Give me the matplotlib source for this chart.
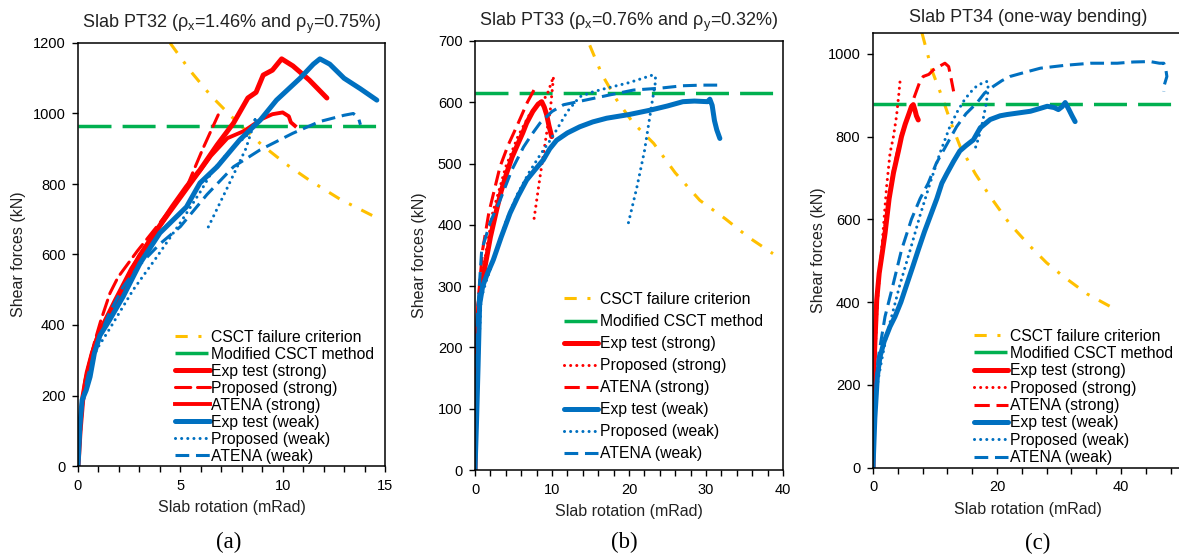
import matplotlib
matplotlib.use("Agg")
import matplotlib.pyplot as plt
from matplotlib.ticker import MultipleLocator

plt.rcParams['font.family'] = ['Liberation Sans', 'DejaVu Sans']
plt.rcParams['mathtext.fontset'] = 'custom'
plt.rcParams['mathtext.rm'] = 'Liberation Sans'

# ---------------- data ----------------
legend_labels = ["CSCT failure criterion", "Modified CSCT method", "Exp test (strong)",
                 "Proposed (strong)", "ATENA (strong)", "Exp test (weak)",
                 "Proposed (weak)", "ATENA (weak)"]

titles = ["Slab PT32 (ρ$_\\mathregular{x}$=1.46% and ρ$_\\mathregular{y}$=0.75%)",
          "Slab PT33 (ρ$_\\mathregular{x}$=0.76% and ρ$_\\mathregular{y}$=0.32%)",
          "Slab PT34 (one-way bending)"]
panel_tags = ["(a)", "(b)", "(c)"]

# Panel (a) PT32
a_mod = 965
a_csct_x = [4.5, 5.5, 6.5, 7.9, 9.0, 10.2, 11.3, 12.8, 14.5]
a_csct_y = [1200, 1120, 1050, 968, 910, 855, 811, 757, 707]
a_exp_s_x = [0, 0.1, 0.24, 0.45, 0.7, 1.0, 1.3, 1.8, 2.4, 3.0, 3.8, 4.6, 5.3, 5.96, 6.8, 7.6, 8.3, 8.7, 9.05, 9.5, 9.95, 10.5, 11.3, 12.16]
a_exp_s_y = [0, 100, 196, 265, 320, 370, 405, 460, 530, 595, 665, 735, 792, 840, 911, 973, 1044, 1060, 1109, 1123, 1155, 1135, 1095, 1044]
a_prop_s_x = [0, 0.2, 0.5, 0.8, 1.1, 1.56, 1.96, 2.9, 4.0, 5.3, 6.1, 6.85]
a_prop_s_y = [0, 160, 280, 350, 410, 490, 536, 610, 690, 790, 900, 996]
a_atena_s_x = [0, 0.15, 0.35, 0.6, 0.9, 1.2, 1.8, 2.6, 3.5, 4.5, 5.5, 6.5, 7.3, 8.1, 9.0, 9.5, 10.0, 10.3, 10.4, 10.6]
a_atena_s_y = [0, 150, 240, 300, 360, 400, 470, 560, 640, 720, 800, 880, 930, 950, 985, 998, 1003, 992, 975, 965]
a_exp_w_x = [0, 0.1, 0.2, 0.4, 0.59, 0.8, 1.07, 1.5, 2.2, 3.03, 4.0, 5.3, 5.96, 6.8, 7.9, 8.9, 9.7, 10.85, 11.5, 11.82, 12.3, 13.0, 13.8, 14.6]
a_exp_w_y = [0, 120, 187, 215, 253, 320, 370, 410, 480, 575, 661, 735, 803, 849, 925, 981, 1038, 1100, 1140, 1155, 1140, 1100, 1070, 1038]
a_prop_w_x = [0, 0.2, 0.5, 0.9, 1.45, 2.7, 3.85, 5.0, 6.0, 6.6, 7.5, 8.4, 8.7, 8.2, 7.3, 6.3]
a_prop_w_y = [0, 170, 240, 330, 380, 500, 593, 690, 780, 840, 900, 945, 990, 900, 790, 670]
a_atena_w_x = [0, 0.15, 0.5, 1.0, 1.5, 2.2, 3.0, 4.0, 5.0, 6.3, 7.6, 8.9, 10.5, 11.8, 13.0, 13.45, 13.7, 13.8]
a_atena_w_y = [0, 170, 260, 360, 430, 508, 570, 630, 679, 770, 849, 897, 944, 977, 995, 1000, 988, 968]

# Panel (b) PT33
b_mod = 615
b_csct_x = [14.9, 16.5, 18.4, 20.5, 23.2, 26.0, 29.2, 32.5, 35.5, 38.7]
b_csct_y = [693, 645, 604, 567, 533, 485, 440, 410, 380, 353]
b_exp_s_x = [0, 0.1, 0.25, 0.5, 0.9, 1.3, 2.0, 2.8, 3.4, 4.1, 4.8, 5.6, 6.2, 6.7, 7.5, 8.2, 8.66, 9.0, 9.3, 9.6, 9.96]
b_exp_s_y = [0, 100, 200, 270, 300, 332, 380, 424, 455, 484, 510, 533, 550, 566, 585, 597, 601, 592, 580, 562, 544]
b_prop_s_x = [0, 0.2, 0.7, 2.3, 4.0, 5.6, 7.0, 8.2, 9.3, 10.0, 10.2, 9.8, 9.1, 8.44, 7.58]
b_prop_s_y = [0, 200, 300, 420, 495, 545, 578, 598, 610, 635, 642, 590, 533, 478, 402]
b_atena_s_x = [0, 0.2, 0.5, 1.0, 1.8, 3.25, 4.3, 5.4, 6.8, 8.0]
b_atena_s_y = [0, 200, 290, 360, 420, 495, 530, 560, 600, 628]
b_exp_w_x = [0, 0.2, 0.4, 0.6, 1.0, 1.6, 2.38, 3.4, 4.55, 5.6, 6.7, 7.8, 8.87, 9.7, 10.6, 12.0, 13.6, 15.3, 17.1, 20.0, 22.7, 25.0, 27.0, 28.5, 30.2, 30.5, 30.8, 31.1, 31.4, 31.8]
b_exp_w_y = [0, 80, 170, 270, 300, 320, 343, 380, 419, 447, 473, 490, 506, 524, 538, 550, 560, 568, 574, 580, 587, 594, 601, 602, 601, 605, 595, 570, 555, 541]
b_prop_w_x = [0, 0.2, 0.5, 0.8, 1.5, 2.5, 4.0, 5.5, 7.0, 8.5, 9.6, 10.6, 12.0, 13.6, 15.3, 17.1, 20.0, 23.2, 23.5, 23.0, 22.0, 21.0, 19.9]
b_prop_w_y = [0, 100, 200, 280, 310, 345, 405, 450, 485, 515, 535, 555, 585, 609, 617, 623, 632, 645, 638, 600, 520, 460, 402]
b_atena_w_x = [0, 0.1, 0.3, 0.87, 2.0, 3.25, 4.8, 6.3, 7.4, 8.44, 10.0, 11.5, 13.0, 14.5, 17.5, 20.6, 24.0, 27.0, 29.5, 31.6]
b_atena_w_y = [0, 120, 250, 359, 405, 440, 490, 527, 548, 566, 585, 596, 600, 604, 612, 620, 623, 627, 628, 628]

# Panel (c) PT34
c_mod = 878
c_csct_x = [7.9, 9.5, 11.1, 12.6, 14.05, 16.5, 18.9, 22.0, 25.4, 28.0, 30.7, 34.5, 38.8]
c_csct_y = [1050, 960, 897, 832, 776, 710, 655, 590, 534, 495, 462, 420, 385]
c_exp_s_x = [0, 0.03, 0.1, 0.3, 0.6, 1.0, 1.5, 1.94, 2.6, 3.3, 4.1, 4.6, 5.2, 5.8, 6.2, 6.5, 6.8, 7.0, 7.3]
c_exp_s_y = [0, 150, 220, 300, 405, 470, 520, 566, 650, 712, 765, 800, 830, 855, 872, 877, 862, 850, 840]
c_prop_s_x = [0, 0.1, 0.3, 0.7, 1.4, 2.2, 2.75, 3.3, 3.8, 4.15, 4.36]
c_prop_s_y = [0, 150, 260, 400, 526, 680, 760, 800, 850, 900, 933]
c_atena_s_x = [0, 0.05, 0.3, 0.7, 1.3, 1.9, 2.6, 3.3, 4.5, 5.5, 6.5, 7.5, 8.1, 9.0, 9.74, 11.0, 11.6, 12.2, 12.6, 13.0]
c_atena_s_y = [0, 150, 300, 420, 510, 580, 650, 720, 800, 840, 889, 930, 945, 950, 961, 972, 977, 969, 940, 909]
c_exp_w_x = [0, 0.3, 0.7, 1.13, 1.8, 2.75, 3.55, 4.5, 5.5, 6.4, 7.3, 8.3, 9.3, 10.3, 11.1, 11.9, 13.0, 14.0, 15.0, 16.2, 17.3, 18.9, 20.5, 21.6, 23.5, 25.4, 27.0, 28.1, 29.2, 29.9, 30.5, 31.0, 31.6, 32.1, 32.6]
c_exp_w_y = [0, 120, 220, 268, 305, 341, 365, 400, 445, 485, 526, 570, 610, 650, 687, 710, 740, 765, 778, 792, 821, 841, 850, 853, 857, 861, 868, 873, 870, 865, 872, 882, 865, 850, 836]
c_prop_w_x = [0, 0.15, 0.4, 0.8, 1.4, 2.2, 3.0, 4.3, 6.0, 7.6, 9.2, 10.8, 12.4, 13.6, 14.6, 15.6, 16.6, 17.6, 18.4, 18.6, 18.2, 17.6, 17.0, 16.5]
c_prop_w_y = [0, 80, 150, 210, 260, 320, 365, 440, 526, 610, 687, 760, 824, 860, 885, 905, 920, 929, 933, 915, 875, 830, 795, 772]
c_atena_w_x = [0, 0.2, 0.5, 0.8, 1.13, 1.94, 3.2, 4.6, 6.2, 7.6, 8.9, 10.2, 11.5, 13.5, 15.0, 16.75, 18.0, 19.4, 20.8, 22.1, 24.5, 27.0, 31.0, 35.1, 39.4, 42.0, 44.7, 46.2, 46.9, 47.2, 47.4, 47.0, 46.9]
c_atena_w_y = [0, 120, 200, 260, 292, 365, 440, 526, 600, 650, 687, 735, 770, 824, 855, 881, 905, 921, 935, 945, 955, 965, 972, 977, 977, 980, 981, 977, 977, 965, 945, 925, 909]

# ---------------- styles ----------------
RED = '#FF0000'
BLUE = '#0070C0'
GREEN = '#00B050'
ORANGE = '#FFC000'
DOT = (0, (0.01, 2.0))

fig = plt.figure(figsize=(11.79, 5.58), dpi=100)
W, H = 1179, 558

def make_ax(l, r, t, b):
    return fig.add_axes([l / W, 1 - b / H, (r - l) / W, (b - t) / H])

axes = [make_ax(78, 385, 43, 466), make_ax(475, 783, 41, 470), make_ax(873, 1183, 33, 467.7)]

panels = [
    dict(mod=a_mod, csct=(a_csct_x, a_csct_y), exp_s=(a_exp_s_x, a_exp_s_y), prop_s=(a_prop_s_x, a_prop_s_y),
         atena_s=(a_atena_s_x, a_atena_s_y), exp_w=(a_exp_w_x, a_exp_w_y), prop_w=(a_prop_w_x, a_prop_w_y),
         atena_w=(a_atena_w_x, a_atena_w_y), xlim=15, ylim=1200, ytop=1200, xmaj=5, xmin=1, ymaj=200,
         prop_s_ls=(0, (5, 2.2)), atena_s_ls='-', atena_s_lw=2.8,
         leg=(0.965, 0.005), lspace=0.13, ylab_x=-0.17, xlab_y=-0.08, tpad=11),
    dict(mod=b_mod, csct=(b_csct_x, b_csct_y), exp_s=(b_exp_s_x, b_exp_s_y), prop_s=(b_prop_s_x, b_prop_s_y),
         atena_s=(b_atena_s_x, b_atena_s_y), exp_w=(b_exp_w_x, b_exp_w_y), prop_w=(b_prop_w_x, b_prop_w_y),
         atena_w=(b_atena_w_x, b_atena_w_y), xlim=40, ylim=700, ytop=700, xmaj=10, xmin=2, ymaj=100,
         prop_s_ls=DOT, atena_s_ls=(0, (5, 2.2)), atena_s_lw=2.2,
         leg=(0.935, 0.02), lspace=0.45, ylab_x=-0.156, xlab_y=-0.08, tpad=11),
    dict(mod=c_mod, csct=(c_csct_x, c_csct_y), exp_s=(c_exp_s_x, c_exp_s_y), prop_s=(c_prop_s_x, c_prop_s_y),
         atena_s=(c_atena_s_x, c_atena_s_y), exp_w=(c_exp_w_x, c_exp_w_y), prop_w=(c_prop_w_x, c_prop_w_y),
         atena_w=(c_atena_w_x, c_atena_w_y), xlim=50, ylim=1050, ytop=1000, xmaj=20, xmin=4, ymaj=200,
         prop_s_ls=DOT, atena_s_ls=(0, (5, 2.2)), atena_s_lw=2.2,
         leg=(0.968, 0.006), lspace=0.15, ylab_x=-0.152, xlab_y=-0.08, tpad=8),
]

for i, (ax, p) in enumerate(zip(axes, panels)):
    ax.plot(*p['csct'], color=ORANGE, lw=2.2, ls=(0, (4, 3.5, 1, 3.5)), label=legend_labels[0])
    ax.axhline(p['mod'], color=GREEN, lw=2.5, ls=(0, (9.5, 3.2)), label=legend_labels[1])
    ax.plot(*p['exp_s'], color=RED, lw=3.6, solid_capstyle='round', label=legend_labels[2])
    ax.plot(*p['prop_s'], color=RED, lw=2.2, ls=p['prop_s_ls'], dash_capstyle='round', label=legend_labels[3])
    ax.plot(*p['atena_s'], color=RED, lw=p['atena_s_lw'], ls=p['atena_s_ls'], label=legend_labels[4])
    ax.plot(*p['exp_w'], color=BLUE, lw=3.6, solid_capstyle='round', label=legend_labels[5])
    ax.plot(*p['prop_w'], color=BLUE, lw=2.2, ls=DOT, dash_capstyle='round', label=legend_labels[6])
    ax.plot(*p['atena_w'], color=BLUE, lw=2.2, ls=(0, (4.5, 2.2)), label=legend_labels[7])

    ax.set_yticks(list(range(0, p['ytop'] + 1, p['ymaj'])))
    ax.xaxis.set_major_locator(MultipleLocator(p['xmaj']))
    ax.xaxis.set_minor_locator(MultipleLocator(p['xmin']))
    ax.set_xlim(0, p['xlim'])
    ax.set_ylim(0, p['ylim'])
    ax.tick_params(axis='both', which='both', direction='out', length=4, width=1.0,
                   labelsize=10.5, pad=5, top=False, right=False, colors='black')
    for s in ax.spines.values():
        s.set_linewidth(1.1)
        s.set_color('black')

    ax.set_xlabel("Slab rotation (mRad)", fontsize=11.5, color='#222222')
    ax.set_ylabel("Shear forces (kN)", fontsize=11.5, color='#222222')
    ax.yaxis.set_label_coords(p['ylab_x'], 0.5)
    ax.xaxis.set_label_coords(0.5, p['xlab_y'])
    ax.set_title(titles[i], fontsize=13, pad=p['tpad'], color='#222222')

    ax.legend(loc='lower right', bbox_to_anchor=p['leg'], frameon=False, fontsize=11.3,
              handlelength=2.2, handletextpad=0.1, labelspacing=p['lspace'],
              borderpad=0, borderaxespad=0)

tag_pos = [(229, 542), (624, 542), (1038, 543)]
for tag, (x, y) in zip(panel_tags, tag_pos):
    fig.text(x / W, 1 - y / H, tag, ha='center', va='center', fontsize=16.5,
             family=['Liberation Serif', 'DejaVu Serif'])

fig.savefig("out.png", dpi=100)
